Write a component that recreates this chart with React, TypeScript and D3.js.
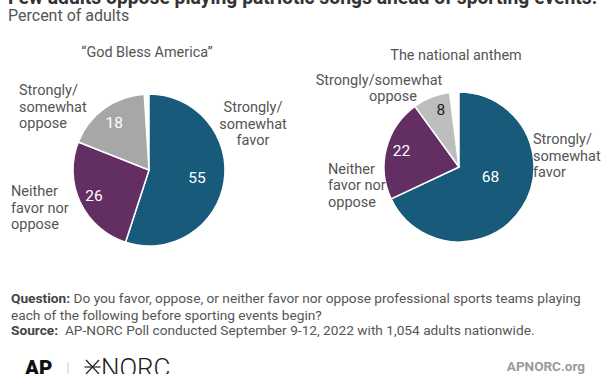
import React from "react";
import * as d3 from "d3";

const categories = ["Strongly/somewhat favor", "Neither favor nor oppose", "Strongly/somewhat oppose"];
const godBlessValues = [55, 26, 18];
const anthemValues = [68, 22, 8];
const pieTitles = ["\u201CGod Bless America\u201D", "The national anthem"];

const W = 612;
const H = 374;
const FONT = "Roboto, 'Noto Sans', sans-serif";
const COLORS = ["#175a7a", "#632f62", "#a7a7a7"];
const COLORS_RIGHT = ["#175a7a", "#632f62", "#bdbdbd"];
const LABEL_FILL = ["#ffffff", "#ffffff", "#ffffff"];
const LABEL_FILL_RIGHT = ["#ffffff", "#ffffff", "#222222"];

type LabelLine = { text: string; x: number; y: number; anchor?: string };

interface PieSpec {
  values: number[];
  title: string;
  cx: number;
  cy: number;
  r: number;
  titleX: number;
  titleY: number;
  colors: string[];
  labelFill: string[];
  labelR: number[];
  labelShift: number[];
  catLabels: LabelLine[][];
}

const pies: PieSpec[] = [
  {
    values: godBlessValues,
    title: pieTitles[0],
    cx: 149,
    cy: 170,
    r: 76,
    titleX: 147,
    titleY: 57,
    colors: COLORS,
    labelFill: LABEL_FILL,
    labelR: [0.64, 0.8, 0.78],
    labelShift: [0, 0, 0],
    catLabels: [
      [
        { text: "Strongly/", x: 253, y: 112, anchor: "middle" },
        { text: "somewhat", x: 253, y: 128.5, anchor: "middle" },
        { text: "favor", x: 253, y: 145, anchor: "middle" },
      ],
      [
        { text: "Neither", x: 11, y: 196 },
        { text: "favor nor", x: 11, y: 212.5 },
        { text: "oppose", x: 11, y: 229 },
      ],
      [
        { text: "Strongly/", x: 19, y: 95 },
        { text: "somewhat", x: 19, y: 111.5 },
        { text: "oppose", x: 19, y: 128 },
      ],
    ],
  },
  {
    values: anthemValues,
    title: pieTitles[1],
    cx: 459,
    cy: 167,
    r: 75,
    titleX: 456,
    titleY: 60,
    colors: COLORS_RIGHT,
    labelFill: LABEL_FILL_RIGHT,
    labelR: [0.44, 0.8, 0.8],
    labelShift: [-15, 2, 4],
    catLabels: [
      [
        { text: "Strongly/", x: 533, y: 144 },
        { text: "somewhat", x: 533, y: 160.5 },
        { text: "favor", x: 533, y: 177 },
      ],
      [
        { text: "Neither", x: 328, y: 173.5 },
        { text: "favor nor", x: 328, y: 190 },
        { text: "oppose", x: 328, y: 206.5 },
      ],
      [
        { text: "Strongly/somewhat", x: 379, y: 85, anchor: "middle" },
        { text: "oppose", x: 393, y: 101, anchor: "middle" },
      ],
    ],
  },
];

function Pie({ spec }: { spec: PieSpec }) {
  const total = d3.sum(spec.values);
  const pieGen = d3
    .pie<number>()
    .sort(null)
    .value((d) => d)
    .startAngle(0)
    .endAngle((2 * Math.PI * total) / 100);
  const arcs = pieGen(spec.values);
  const arcGen = d3.arc<d3.PieArcDatum<number>>().innerRadius(0).outerRadius(spec.r);
  return (
    <g>
      <text x={spec.titleX} y={spec.titleY} textAnchor="middle" fontSize={14.4} fill="#555" fontFamily={FONT}>
        {spec.title}
      </text>
      <g transform={`translate(${spec.cx},${spec.cy})`}>
        {arcs.map((a, i) => (
          <path key={i} d={arcGen(a) || ""} fill={spec.colors[i]} stroke="#fff" strokeWidth={1.5} strokeLinejoin="round" />
        ))}
        {arcs.map((a, i) => {
          const mid = (a.startAngle + a.endAngle) / 2 + (spec.labelShift[i] * Math.PI) / 180;
          const lr = spec.r * spec.labelR[i];
          const x = Math.sin(mid) * lr;
          const y = -Math.cos(mid) * lr;
          return (
            <text
              key={"l" + i}
              x={x}
              y={y}
              dy="0.36em"
              textAnchor="middle"
              fontSize={15.5}
              fill={spec.labelFill[i]}
              fontFamily={FONT}
            >
              {a.data}
            </text>
          );
        })}
      </g>
      {spec.catLabels.map((lines, i) => (
        <text key={"c" + i} fontSize={14.5} fill="#555" fontFamily={FONT} aria-label={categories[i]}>
          {lines.map((ln, j) => (
            <tspan key={j} x={ln.x} y={ln.y} textAnchor={ln.anchor || "start"}>
              {ln.text}
            </tspan>
          ))}
        </text>
      ))}
    </g>
  );
}

export default function App() {
  return (
    <svg
      width={W}
      height={H}
      viewBox={`0 0 ${W} ${H}`}
      style={{ position: "absolute", left: 0, top: 0, background: "#fff" }}
      fontFamily={FONT}
    >
      <rect width={W} height={H} fill="#fff" />
      <text x={8} y={3.5} fontSize={19.3} fontWeight={700} fill="#333">
        Few adults oppose playing patriotic songs ahead of sporting events.
      </text>
      <text x={8} y={21} fontSize={16} fill="#555">
        Percent of adults
      </text>
      {pies.map((p, i) => (
        <Pie key={i} spec={p} />
      ))}
      <text x={11} y={303} fontSize={13.7} fill="#555">
        <tspan fontWeight={700} fill="#444">Question:</tspan>
        <tspan> Do you favor, oppose, or neither favor nor oppose professional sports teams playing</tspan>
      </text>
      <text x={11} y={319.5} fontSize={13.7} fill="#555">
        each of the following before sporting events begin?
      </text>
      <text x={11} y={335} fontSize={13.7} fill="#555">
        <tspan fontWeight={700} fill="#444">Source:</tspan>
        <tspan>{"\u00A0\u00A0AP-NORC Poll conducted September 9-12, 2022 with 1,054 adults nationwide."}</tspan>
      </text>
      <text x={25} y={374.5} fontSize={20.5} fontWeight={900} fill="#111">
        AP
      </text>
      <line x1={68} x2={68} y1={362} y2={374} stroke="#ccc" strokeWidth={1} />
      <g stroke="#222" strokeWidth={1.2}>
        <line x1={86} x2={99} y1={360} y2={374} />
        <line x1={99} x2={86} y1={360} y2={374} />
        <line x1={84.5} x2={100.5} y1={367} y2={367} />
      </g>
      <text x={101} y={376.5} fontSize={26} fontWeight={300} fill="#222">
        NORC
      </text>
      <text x={585} y={371} fontSize={13.5} fontWeight={700} fill="#9a9a9a" textAnchor="end">
        APNORC.org
      </text>
    </svg>
  );
}
